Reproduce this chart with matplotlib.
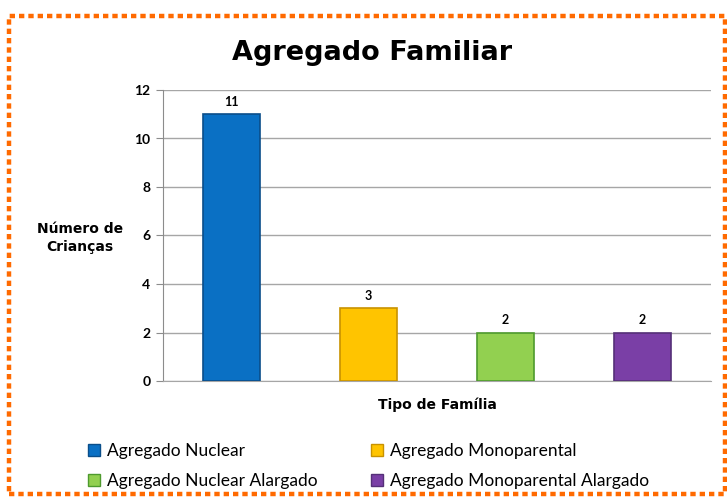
import matplotlib
matplotlib.use("Agg")
import matplotlib.pyplot as plt
from matplotlib.patches import Rectangle, Patch

categories = ["Agregado Nuclear", "Agregado Monoparental",
              "Agregado Nuclear Alargado", "Agregado Monoparental Alargado"]
values = [11, 3, 2, 2]
colors = ["#0A70C4", "#FFC400", "#92D050", "#7A3FA6"]
edges = ["#0A4E8A", "#C89200", "#4E9A2E", "#553078"]
yticks = [0, 2, 4, 6, 8, 10, 12]

W, H = 727, 498
fig = plt.figure(figsize=(W / 100, H / 100), dpi=100)
fig.patch.set_facecolor("white")

# dashed orange border
border = Rectangle((9 / W, 4 / H), 716 / W, 478 / H, transform=fig.transFigure,
                   fill=False, edgecolor="#FF6A00", linewidth=3.2,
                   linestyle=(0, (1.2, 0.9)))
fig.add_artist(border)

ax = fig.add_axes([163 / W, (H - 381) / H, 548 / W, 291 / H])
x = list(range(len(categories)))
bars = ax.bar(x, values, width=0.42, color=colors, edgecolor=edges, linewidth=1.2, zorder=3)
for xi, v in zip(x, values):
    ax.text(xi, v + 0.25, str(v), ha="center", va="bottom", fontsize=9,
            fontweight="bold", family="Lato")

ax.set_xlim(-0.5, len(categories) - 0.5)
ax.set_ylim(0, 12)
ax.set_yticks(yticks)
ax.set_yticklabels([str(t) for t in yticks], fontsize=10, fontweight="bold", family="Lato")
ax.set_xticks([])
ax.grid(axis="y", color="#A6A6A6", linewidth=1, zorder=0)
for s in ["top", "right"]:
    ax.spines[s].set_visible(False)
ax.spines["bottom"].set_color("#A6A6A6")
ax.spines["left"].set_color("#8C8C8C")
ax.tick_params(axis="y", length=5, color="#8C8C8C", pad=4)

fig.text(372 / W, (H - 53) / H, "Agregado Familiar", ha="center", va="center",
         fontsize=19.5, fontweight="heavy", family="DejaVu Sans")
fig.text(437 / W, (H - 405) / H, "Tipo de Família", ha="center", va="center",
         fontsize=10, fontweight="heavy", family="DejaVu Sans")
fig.text(80 / W, (H - 238) / H, "Número de\nCrianças", ha="center", va="center",
         fontsize=10, fontweight="heavy", family="DejaVu Sans", linespacing=1.3)

handles = [Patch(facecolor=c, edgecolor=e) for c, e in zip(colors, edges)]
order = [0, 2, 1, 3]
leg = fig.legend([handles[i] for i in order], [categories[i] for i in order],
                 loc="upper left", bbox_to_anchor=(88 / W, (H - 443) / H),
                 ncol=2, frameon=False, prop={"family": "Lato", "size": 12.5},
                 handlelength=0.7, handleheight=0.7, handletextpad=0.4,
                 columnspacing=3.05, labelspacing=0.8, borderaxespad=0, borderpad=0)

fig.savefig("out.png", dpi=100, facecolor="white")
